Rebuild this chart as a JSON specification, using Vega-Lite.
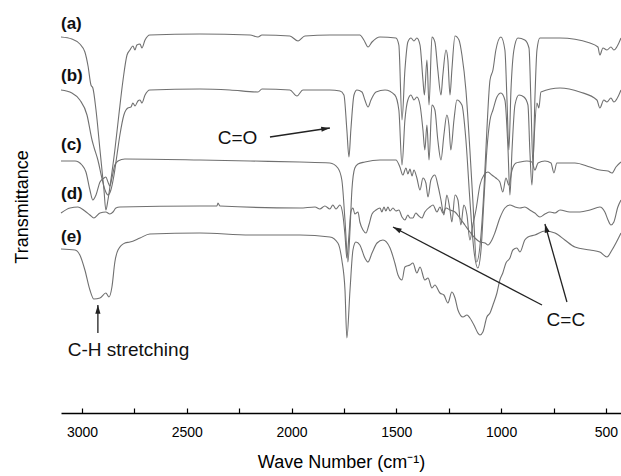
{
  "$schema": "https://vega.github.io/schema/vega-lite/v6.json",
  "width": 560,
  "height": 413,
  "autosize": "none",
  "padding": {"left": 61, "top": 0, "right": 0, "bottom": 63},
  "background": "white",
  "config": {"view": {"stroke": null}, "font": "Liberation Sans"},
  "datasets": {
    "spectra": [
      {"s":"a","w":3100,"t":376},{"s":"a","w":3048,"t":374},{"s":"a","w":3010,"t":369},{"s":"a","w":2986,"t":361},{"s":"a","w":2971,"t":347},{"s":"a","w":2957,"t":328},{"s":"a","w":2948,"t":325},{"s":"a","w":2933,"t":303},{"s":"a","w":2914,"t":263},{"s":"a","w":2895,"t":223},{"s":"a","w":2886,"t":203},{"s":"a","w":2876,"t":213},{"s":"a","w":2862,"t":233},{"s":"a","w":2843,"t":263},{"s":"a","w":2824,"t":298},{"s":"a","w":2804,"t":333},{"s":"a","w":2785,"t":358},{"s":"a","w":2771,"t":363},{"s":"a","w":2757,"t":367},{"s":"a","w":2747,"t":363},{"s":"a","w":2738,"t":368},{"s":"a","w":2723,"t":369},{"s":"a","w":2714,"t":365},{"s":"a","w":2699,"t":373},{"s":"a","w":2676,"t":378},{"s":"a","w":2437,"t":379},{"s":"a","w":2198,"t":378},{"s":"a","w":2160,"t":376},{"s":"a","w":2141,"t":378},{"s":"a","w":2008,"t":377},{"s":"a","w":1969,"t":372},{"s":"a","w":1936,"t":377},{"s":"a","w":1817,"t":378},{"s":"a","w":1674,"t":378},{"s":"a","w":1655,"t":373},{"s":"a","w":1635,"t":366},{"s":"a","w":1616,"t":371},{"s":"a","w":1578,"t":376},{"s":"a","w":1502,"t":375},{"s":"a","w":1488,"t":368},{"s":"a","w":1473,"t":293},{"s":"a","w":1459,"t":343},{"s":"a","w":1445,"t":371},{"s":"a","w":1430,"t":375},{"s":"a","w":1416,"t":372},{"s":"a","w":1402,"t":375},{"s":"a","w":1387,"t":368},{"s":"a","w":1373,"t":333},{"s":"a","w":1366,"t":318},{"s":"a","w":1354,"t":353},{"s":"a","w":1344,"t":308},{"s":"a","w":1330,"t":376},{"s":"a","w":1316,"t":371},{"s":"a","w":1302,"t":343},{"s":"a","w":1287,"t":318},{"s":"a","w":1278,"t":338},{"s":"a","w":1263,"t":363},{"s":"a","w":1254,"t":353},{"s":"a","w":1244,"t":318},{"s":"a","w":1235,"t":343},{"s":"a","w":1220,"t":377},{"s":"a","w":1201,"t":373},{"s":"a","w":1187,"t":358},{"s":"a","w":1168,"t":323},{"s":"a","w":1149,"t":263},{"s":"a","w":1135,"t":213},{"s":"a","w":1117,"t":151},{"s":"a","w":1096,"t":178},{"s":"a","w":1082,"t":223},{"s":"a","w":1068,"t":283},{"s":"a","w":1053,"t":333},{"s":"a","w":1039,"t":343},{"s":"a","w":1025,"t":363},{"s":"a","w":1001,"t":376},{"s":"a","w":982,"t":363},{"s":"a","w":972,"t":313},{"s":"a","w":963,"t":263},{"s":"a","w":953,"t":323},{"s":"a","w":939,"t":363},{"s":"a","w":920,"t":375},{"s":"a","w":887,"t":373},{"s":"a","w":867,"t":365},{"s":"a","w":858,"t":313},{"s":"a","w":848,"t":248},{"s":"a","w":839,"t":313},{"s":"a","w":829,"t":363},{"s":"a","w":815,"t":375},{"s":"a","w":719,"t":375},{"s":"a","w":576,"t":370},{"s":"a","w":538,"t":366},{"s":"a","w":529,"t":358},{"s":"a","w":514,"t":365},{"s":"a","w":495,"t":363},{"s":"a","w":476,"t":366},{"s":"a","w":462,"t":363},{"s":"a","w":428,"t":375},

      {"s":"b","w":3100,"t":323},{"s":"b","w":3048,"t":320},{"s":"b","w":3010,"t":313},{"s":"b","w":2976,"t":298},{"s":"b","w":2952,"t":273},{"s":"b","w":2943,"t":266},{"s":"b","w":2924,"t":253},{"s":"b","w":2905,"t":235},{"s":"b","w":2890,"t":223},{"s":"b","w":2876,"t":218},{"s":"b","w":2862,"t":223},{"s":"b","w":2847,"t":238},{"s":"b","w":2833,"t":258},{"s":"b","w":2819,"t":278},{"s":"b","w":2800,"t":298},{"s":"b","w":2781,"t":305},{"s":"b","w":2766,"t":306},{"s":"b","w":2757,"t":310},{"s":"b","w":2747,"t":307},{"s":"b","w":2733,"t":312},{"s":"b","w":2723,"t":313},{"s":"b","w":2714,"t":310},{"s":"b","w":2699,"t":318},{"s":"b","w":2676,"t":323},{"s":"b","w":2437,"t":324},{"s":"b","w":2294,"t":323},{"s":"b","w":2160,"t":321},{"s":"b","w":2141,"t":324},{"s":"b","w":2008,"t":323},{"s":"b","w":1974,"t":317},{"s":"b","w":1946,"t":323},{"s":"b","w":1817,"t":323},{"s":"b","w":1769,"t":322},{"s":"b","w":1750,"t":318},{"s":"b","w":1736,"t":283},{"s":"b","w":1726,"t":256},{"s":"b","w":1717,"t":283},{"s":"b","w":1702,"t":318},{"s":"b","w":1688,"t":323},{"s":"b","w":1664,"t":321},{"s":"b","w":1650,"t":313},{"s":"b","w":1635,"t":306},{"s":"b","w":1621,"t":313},{"s":"b","w":1597,"t":321},{"s":"b","w":1554,"t":323},{"s":"b","w":1507,"t":318},{"s":"b","w":1488,"t":303},{"s":"b","w":1473,"t":248},{"s":"b","w":1459,"t":293},{"s":"b","w":1445,"t":313},{"s":"b","w":1430,"t":318},{"s":"b","w":1416,"t":313},{"s":"b","w":1402,"t":316},{"s":"b","w":1387,"t":308},{"s":"b","w":1373,"t":283},{"s":"b","w":1364,"t":263},{"s":"b","w":1354,"t":288},{"s":"b","w":1344,"t":253},{"s":"b","w":1330,"t":308},{"s":"b","w":1316,"t":303},{"s":"b","w":1302,"t":273},{"s":"b","w":1287,"t":253},{"s":"b","w":1273,"t":278},{"s":"b","w":1259,"t":298},{"s":"b","w":1249,"t":288},{"s":"b","w":1240,"t":263},{"s":"b","w":1225,"t":293},{"s":"b","w":1211,"t":313},{"s":"b","w":1187,"t":308},{"s":"b","w":1168,"t":273},{"s":"b","w":1149,"t":213},{"s":"b","w":1130,"t":163},{"s":"b","w":1111,"t":145},{"s":"b","w":1096,"t":163},{"s":"b","w":1082,"t":213},{"s":"b","w":1068,"t":263},{"s":"b","w":1053,"t":293},{"s":"b","w":1039,"t":303},{"s":"b","w":1020,"t":316},{"s":"b","w":1001,"t":320},{"s":"b","w":982,"t":313},{"s":"b","w":967,"t":263},{"s":"b","w":958,"t":218},{"s":"b","w":948,"t":263},{"s":"b","w":934,"t":308},{"s":"b","w":915,"t":318},{"s":"b","w":891,"t":316},{"s":"b","w":872,"t":308},{"s":"b","w":863,"t":263},{"s":"b","w":853,"t":228},{"s":"b","w":843,"t":273},{"s":"b","w":829,"t":310},{"s":"b","w":820,"t":305},{"s":"b","w":810,"t":321},{"s":"b","w":719,"t":325},{"s":"b","w":624,"t":321},{"s":"b","w":543,"t":313},{"s":"b","w":529,"t":305},{"s":"b","w":510,"t":313},{"s":"b","w":495,"t":311},{"s":"b","w":476,"t":315},{"s":"b","w":462,"t":311},{"s":"b","w":428,"t":323},

      {"s":"c","w":3100,"t":252},{"s":"c","w":3033,"t":252},{"s":"c","w":3000,"t":248},{"s":"c","w":2981,"t":241},{"s":"c","w":2962,"t":223},{"s":"c","w":2948,"t":213},{"s":"c","w":2933,"t":218},{"s":"c","w":2914,"t":231},{"s":"c","w":2895,"t":235},{"s":"c","w":2886,"t":236},{"s":"c","w":2876,"t":231},{"s":"c","w":2867,"t":227},{"s":"c","w":2857,"t":235},{"s":"c","w":2843,"t":248},{"s":"c","w":2828,"t":252},{"s":"c","w":2795,"t":254},{"s":"c","w":2437,"t":253},{"s":"c","w":2198,"t":252},{"s":"c","w":1960,"t":251},{"s":"c","w":1817,"t":250},{"s":"c","w":1779,"t":245},{"s":"c","w":1760,"t":233},{"s":"c","w":1745,"t":193},{"s":"c","w":1731,"t":151},{"s":"c","w":1721,"t":183},{"s":"c","w":1712,"t":223},{"s":"c","w":1698,"t":245},{"s":"c","w":1683,"t":249},{"s":"c","w":1650,"t":251},{"s":"c","w":1578,"t":253},{"s":"c","w":1502,"t":253},{"s":"c","w":1483,"t":246},{"s":"c","w":1469,"t":238},{"s":"c","w":1454,"t":245},{"s":"c","w":1445,"t":239},{"s":"c","w":1435,"t":244},{"s":"c","w":1425,"t":237},{"s":"c","w":1416,"t":243},{"s":"c","w":1402,"t":235},{"s":"c","w":1387,"t":223},{"s":"c","w":1373,"t":235},{"s":"c","w":1359,"t":230},{"s":"c","w":1349,"t":216},{"s":"c","w":1335,"t":233},{"s":"c","w":1316,"t":238},{"s":"c","w":1302,"t":228},{"s":"c","w":1287,"t":213},{"s":"c","w":1273,"t":198},{"s":"c","w":1259,"t":218},{"s":"c","w":1244,"t":203},{"s":"c","w":1235,"t":191},{"s":"c","w":1220,"t":218},{"s":"c","w":1206,"t":213},{"s":"c","w":1192,"t":188},{"s":"c","w":1178,"t":208},{"s":"c","w":1163,"t":198},{"s":"c","w":1149,"t":173},{"s":"c","w":1135,"t":188},{"s":"c","w":1120,"t":203},{"s":"c","w":1101,"t":228},{"s":"c","w":1082,"t":238},{"s":"c","w":1063,"t":241},{"s":"c","w":1044,"t":238},{"s":"c","w":1025,"t":235},{"s":"c","w":1006,"t":231},{"s":"c","w":992,"t":221},{"s":"c","w":977,"t":235},{"s":"c","w":963,"t":228},{"s":"c","w":948,"t":243},{"s":"c","w":929,"t":250},{"s":"c","w":910,"t":251},{"s":"c","w":877,"t":252},{"s":"c","w":853,"t":251},{"s":"c","w":839,"t":243},{"s":"c","w":824,"t":250},{"s":"c","w":791,"t":252},{"s":"c","w":762,"t":250},{"s":"c","w":748,"t":240},{"s":"c","w":734,"t":250},{"s":"c","w":648,"t":250},{"s":"c","w":576,"t":246},{"s":"c","w":529,"t":243},{"s":"c","w":490,"t":242},{"s":"c","w":471,"t":240},{"s":"c","w":452,"t":246},{"s":"c","w":428,"t":251},

      {"s":"d","w":3100,"t":200},{"s":"d","w":3057,"t":205},{"s":"d","w":3019,"t":206},{"s":"d","w":2986,"t":202},{"s":"d","w":2962,"t":198},{"s":"d","w":2943,"t":195},{"s":"d","w":2914,"t":200},{"s":"d","w":2886,"t":201},{"s":"d","w":2867,"t":199},{"s":"d","w":2852,"t":201},{"s":"d","w":2838,"t":205},{"s":"d","w":2819,"t":206},{"s":"d","w":2437,"t":207},{"s":"d","w":2356,"t":207},{"s":"d","w":2351,"t":210},{"s":"d","w":2342,"t":207},{"s":"d","w":1960,"t":205},{"s":"d","w":1888,"t":206},{"s":"d","w":1865,"t":204},{"s":"d","w":1841,"t":207},{"s":"d","w":1817,"t":204},{"s":"d","w":1803,"t":208},{"s":"d","w":1788,"t":204},{"s":"d","w":1769,"t":208},{"s":"d","w":1755,"t":198},{"s":"d","w":1745,"t":178},{"s":"d","w":1736,"t":155},{"s":"d","w":1726,"t":178},{"s":"d","w":1717,"t":201},{"s":"d","w":1707,"t":205},{"s":"d","w":1698,"t":199},{"s":"d","w":1683,"t":201},{"s":"d","w":1674,"t":191},{"s":"d","w":1659,"t":183},{"s":"d","w":1645,"t":180},{"s":"d","w":1631,"t":188},{"s":"d","w":1616,"t":199},{"s":"d","w":1597,"t":203},{"s":"d","w":1578,"t":205},{"s":"d","w":1569,"t":201},{"s":"d","w":1559,"t":206},{"s":"d","w":1550,"t":202},{"s":"d","w":1540,"t":206},{"s":"d","w":1530,"t":202},{"s":"d","w":1516,"t":205},{"s":"d","w":1502,"t":202},{"s":"d","w":1488,"t":203},{"s":"d","w":1473,"t":196},{"s":"d","w":1459,"t":193},{"s":"d","w":1445,"t":198},{"s":"d","w":1435,"t":195},{"s":"d","w":1421,"t":195},{"s":"d","w":1407,"t":200},{"s":"d","w":1397,"t":198},{"s":"d","w":1378,"t":195},{"s":"d","w":1364,"t":201},{"s":"d","w":1340,"t":206},{"s":"d","w":1325,"t":208},{"s":"d","w":1306,"t":201},{"s":"d","w":1292,"t":206},{"s":"d","w":1278,"t":200},{"s":"d","w":1263,"t":205},{"s":"d","w":1244,"t":203},{"s":"d","w":1220,"t":201},{"s":"d","w":1197,"t":195},{"s":"d","w":1173,"t":188},{"s":"d","w":1149,"t":181},{"s":"d","w":1125,"t":175},{"s":"d","w":1101,"t":171},{"s":"d","w":1077,"t":170},{"s":"d","w":1063,"t":168},{"s":"d","w":1044,"t":173},{"s":"d","w":1030,"t":180},{"s":"d","w":1006,"t":195},{"s":"d","w":982,"t":205},{"s":"d","w":958,"t":208},{"s":"d","w":934,"t":206},{"s":"d","w":910,"t":205},{"s":"d","w":887,"t":206},{"s":"d","w":863,"t":203},{"s":"d","w":839,"t":200},{"s":"d","w":815,"t":196},{"s":"d","w":791,"t":199},{"s":"d","w":767,"t":201},{"s":"d","w":743,"t":200},{"s":"d","w":719,"t":203},{"s":"d","w":672,"t":201},{"s":"d","w":624,"t":201},{"s":"d","w":576,"t":203},{"s":"d","w":529,"t":206},{"s":"d","w":505,"t":201},{"s":"d","w":490,"t":193},{"s":"d","w":476,"t":188},{"s":"d","w":462,"t":191},{"s":"d","w":443,"t":206},{"s":"d","w":428,"t":213},

      {"s":"e","w":3100,"t":164},{"s":"e","w":3033,"t":163},{"s":"e","w":3010,"t":158},{"s":"e","w":2986,"t":143},{"s":"e","w":2962,"t":123},{"s":"e","w":2943,"t":114},{"s":"e","w":2914,"t":115},{"s":"e","w":2886,"t":120},{"s":"e","w":2871,"t":116},{"s":"e","w":2857,"t":126},{"s":"e","w":2843,"t":151},{"s":"e","w":2828,"t":163},{"s":"e","w":2795,"t":170},{"s":"e","w":2771,"t":171},{"s":"e","w":2723,"t":175},{"s":"e","w":2676,"t":179},{"s":"e","w":2437,"t":180},{"s":"e","w":2198,"t":178},{"s":"e","w":1960,"t":178},{"s":"e","w":1817,"t":176},{"s":"e","w":1779,"t":170},{"s":"e","w":1760,"t":153},{"s":"e","w":1745,"t":123},{"s":"e","w":1736,"t":75},{"s":"e","w":1721,"t":123},{"s":"e","w":1707,"t":163},{"s":"e","w":1693,"t":171},{"s":"e","w":1674,"t":168},{"s":"e","w":1650,"t":155},{"s":"e","w":1635,"t":151},{"s":"e","w":1616,"t":160},{"s":"e","w":1592,"t":170},{"s":"e","w":1564,"t":173},{"s":"e","w":1530,"t":165},{"s":"e","w":1507,"t":150},{"s":"e","w":1492,"t":138},{"s":"e","w":1473,"t":133},{"s":"e","w":1459,"t":146},{"s":"e","w":1435,"t":148},{"s":"e","w":1421,"t":150},{"s":"e","w":1402,"t":140},{"s":"e","w":1387,"t":146},{"s":"e","w":1364,"t":133},{"s":"e","w":1349,"t":135},{"s":"e","w":1330,"t":125},{"s":"e","w":1316,"t":128},{"s":"e","w":1292,"t":120},{"s":"e","w":1273,"t":118},{"s":"e","w":1254,"t":110},{"s":"e","w":1235,"t":121},{"s":"e","w":1220,"t":115},{"s":"e","w":1206,"t":103},{"s":"e","w":1182,"t":96},{"s":"e","w":1163,"t":98},{"s":"e","w":1149,"t":95},{"s":"e","w":1125,"t":86},{"s":"e","w":1111,"t":80},{"s":"e","w":1101,"t":78},{"s":"e","w":1087,"t":81},{"s":"e","w":1068,"t":96},{"s":"e","w":1053,"t":100},{"s":"e","w":1039,"t":108},{"s":"e","w":1020,"t":120},{"s":"e","w":1006,"t":133},{"s":"e","w":992,"t":140},{"s":"e","w":977,"t":150},{"s":"e","w":958,"t":155},{"s":"e","w":944,"t":163},{"s":"e","w":925,"t":165},{"s":"e","w":910,"t":161},{"s":"e","w":887,"t":173},{"s":"e","w":872,"t":176},{"s":"e","w":839,"t":178},{"s":"e","w":791,"t":182},{"s":"e","w":743,"t":180},{"s":"e","w":696,"t":173},{"s":"e","w":648,"t":166},{"s":"e","w":576,"t":163},{"s":"e","w":529,"t":161},{"s":"e","w":495,"t":156},{"s":"e","w":471,"t":163},{"s":"e","w":428,"t":180}
    ],
    "labels": [
      {"w":3100,"t":389,"txt":"(a)"},
      {"w":3100,"t":337,"txt":"(b)"},
      {"w":3100,"t":268,"txt":"(c)"},
      {"w":3100,"t":219,"txt":"(d)"},
      {"w":3100,"t":176,"txt":"(e)"}
    ],
    "notes": [
      {"w":2258,"t":275,"txt":"C=O"},
      {"w":2778,"t":63,"txt":"C-H stretching"},
      {"w":691,"t":93,"txt":"C=C"}
    ],
    "arrows": [
      {"w":2103,"t":276,"w2":1817,"t2":285,"ang":81.5},
      {"w":2924,"t":80,"w2":2924,"t2":108,"ang":0},
      {"w":805,"t":108,"w2":1516,"t2":186,"ang":297.6},
      {"w":686,"t":111,"w2":791,"t2":189,"ang":344.3}
    ]
  },
  "encoding": {
    "x": {
      "field": "w", "type": "quantitative",
      "scale": {"domain": [428, 3100], "reverse": true, "nice": false, "zero": false},
      "axis": {
        "values": [3000, 2750, 2500, 2250, 2000, 1750, 1500, 1250, 1000, 750, 500],
        "labelExpr": "datum.value % 500 == 0 ? format(datum.value, 'd') : ''",
        "grid": false, "domainColor": "#000", "domainWidth": 1.5,
        "tickColor": "#000", "tickSize": -5, "tickWidth": 1.2,
        "labelFont": "Liberation Sans", "labelFontSize": 14, "labelColor": "#000", "labelPadding": 17,
        "title": "Wave Number (cm⁻¹)", "titleFont": "Liberation Sans", "titleFontSize": 18,
        "titleFontWeight": "normal", "titleColor": "#000", "titlePadding": 14
      }
    },
    "y": {
      "field": "t", "type": "quantitative",
      "scale": {"domain": [0, 413], "nice": false, "zero": false},
      "axis": {
        "domain": false, "ticks": false, "labels": false, "grid": false,
        "title": "Transmittance", "titleFont": "Liberation Sans", "titleFontSize": 18,
        "titleFontWeight": "normal", "titleColor": "#000", "titlePadding": 30
      }
    }
  },
  "layer": [
    {
      "data": {"name": "spectra"},
      "mark": {"type": "line", "stroke": "#707070", "strokeWidth": 1.1, "interpolate": "monotone"},
      "encoding": {"detail": {"field": "s"}}
    },
    {
      "data": {"name": "labels"},
      "mark": {"type": "text", "align": "left", "baseline": "middle", "font": "Liberation Sans", "fontSize": 17, "fontWeight": "bold", "color": "#111"},
      "encoding": {"text": {"field": "txt"}}
    },
    {
      "data": {"name": "notes"},
      "mark": {"type": "text", "align": "center", "baseline": "middle", "font": "Liberation Sans", "fontSize": 19, "color": "#111"},
      "encoding": {"text": {"field": "txt"}}
    },
    {
      "data": {"name": "arrows"},
      "mark": {"type": "rule", "color": "#222", "strokeWidth": 1.3},
      "encoding": {"x2": {"field": "w2"}, "y2": {"field": "t2"}}
    },
    {
      "data": {"name": "arrows"},
      "mark": {"type": "point", "shape": "M0,0L-0.3,1L0.3,1Z", "filled": true, "color": "#222", "size": 300, "opacity": 1},
      "encoding": {
        "x": {"field": "w2", "type": "quantitative"},
        "y": {"field": "t2", "type": "quantitative"},
        "angle": {"field": "ang", "type": "quantitative", "scale": null}
      }
    }
  ]
}
